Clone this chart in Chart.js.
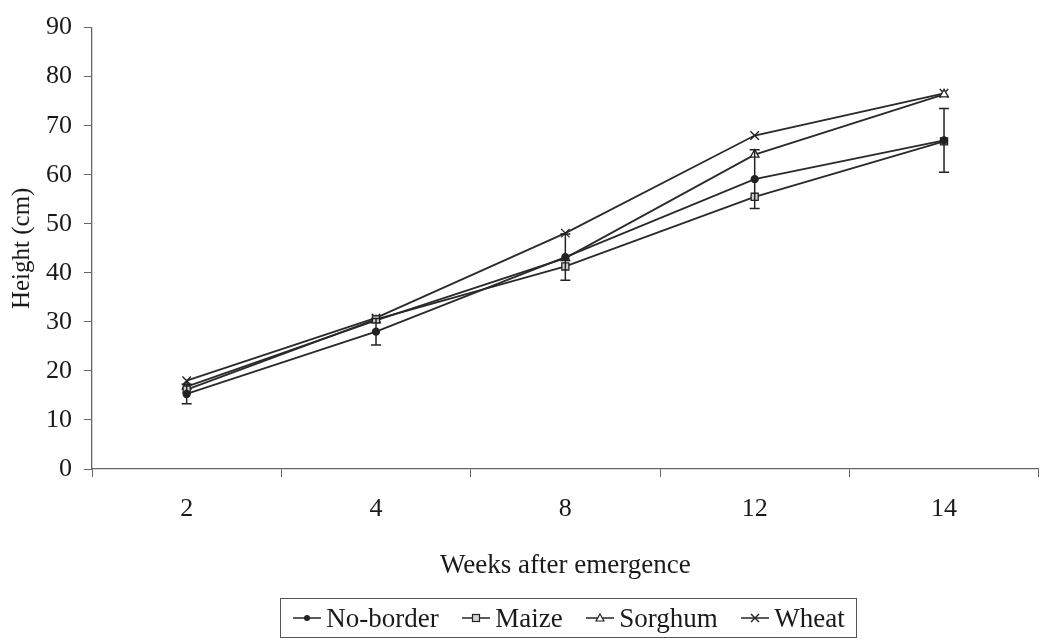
<!DOCTYPE html>
<html>
<head>
<meta charset="utf-8">
<script src="https://cdn.jsdelivr.net/npm/chart.js@4"></script>
<style>
    html, body { margin: 0; padding: 0; background: #fff; }
    #wrap { position: relative; width: 1046px; height: 643px; }
    #legend {
        position: absolute; left: 280px; top: 598px; width: 575px; height: 38px;
        border: 1px solid #555; display: flex; align-items: center; justify-content: space-around;
        font-family: 'Liberation Serif', serif; font-size: 27px; color: #1a1a1a;
    }
    #legend span { display: flex; align-items: center; }
    #legend svg { margin-right: 4px; }
</style>
</head>
<body>
<div id="wrap">
    <canvas id="heightChart" width="1046" height="643"></canvas>
    <div id="legend"></div>
</div>
<script>
(function(){
    "use strict";

    // weeks after emergence
    const weeks = ['2', '4', '8', '12', '14'];

    // plant height (cm) per border treatment
    const noBorder = [15.3, 28.0, 43.2, 59.1, 67.0];
    const maize    = [16.2, 30.5, 41.3, 55.5, 66.8];
    const sorghum  = [16.8, 30.3, 43.0, 64.1, 76.4];
    const wheat    = [18.0, 30.8, 48.1, 68.0, 76.6];

    // error bar (+/-) on the no-border series
    const noBorderErr = [2.0, 2.7, 4.7, 6.0, 6.5];

    const yTicks = { min: 0, max: 90, step: 10 };

    const FONT = "'Liberation Serif', 'Times New Roman', serif";
    const LINE = '#2a2a2a';
    const AXIS = '#666';

    const series = [
        { label: 'No-border', data: noBorder, pointStyle: 'circle', radius: 3.5, fill: '#222' },
        { label: 'Maize', data: maize, pointStyle: 'rect', radius: 5, fill: '#d2d2d2' },
        { label: 'Sorghum', data: sorghum, pointStyle: 'triangle', radius: 5, fill: '#fff' },
        { label: 'Wheat', data: wheat, pointStyle: 'crossRot', radius: 6, fill: '#fff' }
    ];

    // draws the vertical error bars with caps
    const errorBars = {
        id: 'errorBars',
        afterDatasetsDraw(chart) {
            const ctx = chart.ctx;
            const x = chart.scales.x;
            const y = chart.scales.y;
            ctx.save();
            ctx.strokeStyle = '#222';
            ctx.lineWidth = 1.5;
            noBorder.forEach((v, i) => {
                const px = x.getPixelForValue(i);
                const top = y.getPixelForValue(v + noBorderErr[i]);
                const bot = y.getPixelForValue(v - noBorderErr[i]);
                ctx.beginPath();
                ctx.moveTo(px, top); ctx.lineTo(px, bot);
                ctx.moveTo(px - 5, top); ctx.lineTo(px + 5, top);
                ctx.moveTo(px - 5, bot); ctx.lineTo(px + 5, bot);
                ctx.stroke();
            });
            ctx.restore();
        }
    };

    function createChart() {
        const ctx = document.getElementById('heightChart').getContext('2d');
        new Chart(ctx, {
            type: 'line',
            data: {
                labels: weeks,
                datasets: series.map(s => ({
                    label: s.label,
                    data: s.data,
                    borderColor: LINE,
                    borderWidth: 1.8,
                    pointStyle: s.pointStyle,
                    pointRadius: s.radius,
                    pointBackgroundColor: s.fill,
                    pointBorderColor: '#222',
                    pointBorderWidth: 1.3,
                    tension: 0,
                    fill: false
                }))
            },
            options: {
                responsive: false,
                animation: false,
                layout: { padding: { top: 19, right: 2, left: 0, bottom: 0 } },
                plugins: {
                    legend: { display: false },
                    tooltip: { enabled: false }
                },
                scales: {
                    x: {
                        type: 'category',
                        offset: true,
                        grid: { offset: true, drawOnChartArea: false, tickLength: 8, color: AXIS },
                        border: { color: AXIS, width: 1.3 },
                        ticks: { color: '#1a1a1a', padding: 17, font: { family: FONT, size: 26 } },
                        title: {
                            display: true, text: 'Weeks after emergence', color: '#1a1a1a',
                            font: { family: FONT, size: 27 }, padding: { top: 0, bottom: 61 }
                        },
                        afterFit: scale => {
                            scale.height = 174;
                            scale.paddingLeft = 0;
                            scale.paddingRight = 0;
                        }
                    },
                    y: {
                        min: yTicks.min,
                        max: yTicks.max,
                        grid: { drawOnChartArea: false, tickLength: 8, color: AXIS },
                        border: { color: AXIS, width: 1.3 },
                        ticks: { stepSize: yTicks.step, color: '#1a1a1a', padding: 12, font: { family: FONT, size: 26 } },
                        title: {
                            display: true, text: 'Height (cm)', color: '#1a1a1a',
                            font: { family: FONT, size: 25 }, padding: { top: 7, bottom: 0 }
                        },
                        afterFit: scale => { scale.width = 92; }
                    }
                }
            },
            plugins: [errorBars]
        });
    }

    // small line + marker swatch for the html legend
    function swatch(s) {
        let mark = '';
        if (s.pointStyle === 'circle') mark = '<circle cx="15" cy="10" r="3" fill="#222"/>';
        if (s.pointStyle === 'rect') mark = '<rect x="11.5" y="6.5" width="7" height="7" fill="#d2d2d2" stroke="#222" stroke-width="1.2"/>';
        if (s.pointStyle === 'triangle') mark = '<polygon points="15,6 19,13 11,13" fill="#fff" stroke="#222" stroke-width="1.2"/>';
        if (s.pointStyle === 'crossRot') mark = '<path d="M11,6 L19,14 M19,6 L11,14" stroke="#222" stroke-width="1.4"/>';
        return '<svg width="30" height="20"><line x1="1" y1="10" x2="29" y2="10" stroke="#333" stroke-width="1.6"/>' + mark + '</svg>';
    }

    function buildLegend() {
        document.getElementById('legend').innerHTML =
            series.map(s => '<span>' + swatch(s) + s.label + '</span>').join('');
    }

    createChart();
    buildLegend();
})();
</script>
</body>
</html>
